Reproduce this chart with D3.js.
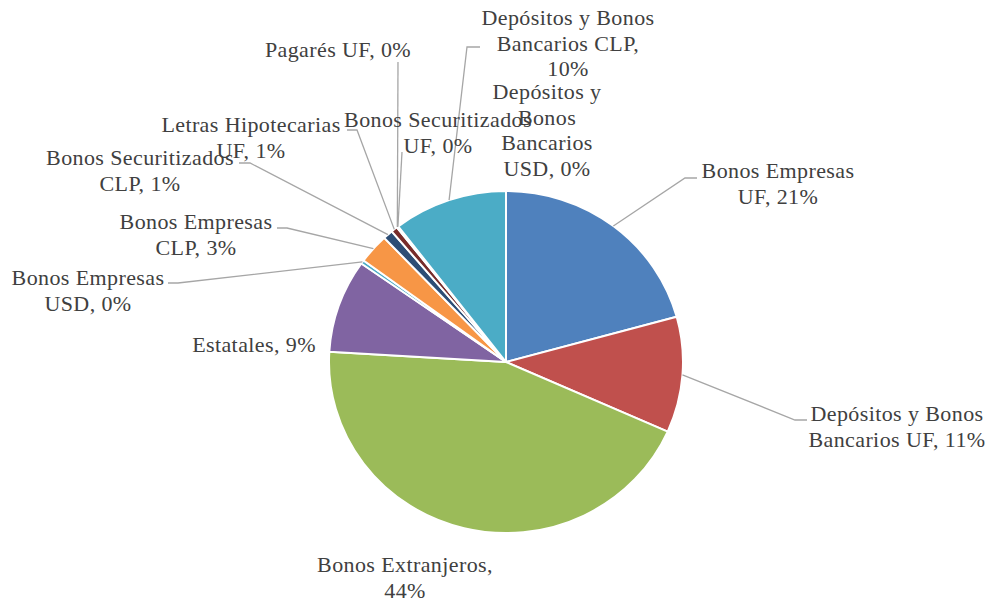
<!DOCTYPE html>
<html>
<head>
<meta charset="utf-8">
<script src="https://cdn.jsdelivr.net/npm/d3@7"></script>
<style>
  html, body { margin: 0; padding: 0; background: #fff; }
  svg { display: block; }
  text.lbl { font-size: 22px; fill: #404040; letter-spacing: 0.4px; }
</style>
</head>
<body>
<svg id="chart" width="989" height="601"></svg>
<script>
// ---- data ----
const categories = [
  "Bonos Empresas UF",
  "Depósitos y Bonos Bancarios UF",
  "Bonos Extranjeros",
  "Estatales",
  "Bonos Empresas USD",
  "Bonos Empresas CLP",
  "Bonos Securitizados CLP",
  "Letras Hipotecarias UF",
  "Pagarés UF",
  "Bonos Securitizados UF",
  "Depósitos y Bonos Bancarios USD",
  "Depósitos y Bonos Bancarios CLP"
];
const values = [20.7, 10.9, 44.2, 8.8, 0.35, 2.8, 0.9, 0.6, 0.1, 0.03, 0.02, 10.4];
const colors = ["#4F81BD", "#C0504D", "#9BBB59", "#8064A2", "#4BACC6", "#F79646",
                "#2C4D75", "#772C2A", "#5F7530", "#4D3B62", "#276A7C", "#4BACC6"];
// label text lines as wrapped in the chart (percentage appended from data)
const labelLines = [
  ["Bonos Empresas", "UF, {p}"],
  ["Depósitos y Bonos", "Bancarios UF, {p}"],
  ["Bonos Extranjeros,", "{p}"],
  ["Estatales, {p}"],
  ["Bonos Empresas", "USD, {p}"],
  ["Bonos Empresas", "CLP, {p}"],
  ["Bonos Securitizados", "CLP, {p}"],
  ["Letras Hipotecarias", "UF, {p}"],
  ["Pagarés UF, {p}"],
  ["Bonos Securitizados", "UF, {p}"],
  ["Depósitos y", "Bonos", "Bancarios", "USD, {p}"],
  ["Depósitos y Bonos", "Bancarios CLP,", "{p}"]
];

// ---- layout (label placement, leader elbows) ----
const labelPos = [
  {cx: 778, y: 178}, {cx: 897, y: 421}, {cx: 405, y: 572}, {cx: 254, y: 352},
  {cx: 88, y: 285},  {cx: 196, y: 229}, {cx: 140, y: 165}, {cx: 251, y: 132},
  {cx: 338, y: 57},  {cx: 438, y: 127}, {cx: 547, y: 99},  {cx: 568, y: 25}
];
const leaders = [
  [[685, 178], [697, 178]],
  [[795, 420], [807, 420]],
  null,
  null,
  [[178, 283], [168, 283]],
  [[287, 228], [277, 228]],
  [[250, 163], [239, 163]],
  [[357, 130], [347, 130]],
  [[398, 62]],
  [[402, 152]],
  null,
  [[467, 47], [480, 47]]
];
const lineH = 25.5;

const cx = 506, cy = 362, R = 177, ry = 171 / 177;

const svg = d3.select("#chart");
const total = d3.sum(values);
const data = categories.map((c, i) => ({name: c, value: values[i], i}));
const pie = d3.pie().sort(null).value(d => d.value).startAngle(0).endAngle(2 * Math.PI);
const arcs = pie(data);
const arc = d3.arc().innerRadius(0).outerRadius(R);

const g = svg.append("g").attr("transform", `translate(${cx},${cy}) scale(1,${ry})`);
g.selectAll("path").data(arcs).enter().append("path")
  .attr("d", arc)
  .attr("fill", d => colors[d.data.i])
  .attr("stroke", "#fff")
  .attr("stroke-width", 2)
  .attr("stroke-linejoin", "round");

// leader lines
arcs.forEach(a => {
  const L = leaders[a.data.i];
  if (!L) return;
  const mid = (a.startAngle + a.endAngle) / 2;
  const start = [cx + R * Math.sin(mid), cy - R * ry * Math.cos(mid)];
  const pts = [start].concat(L);
  svg.append("path")
    .attr("d", d3.line()(pts))
    .attr("fill", "none")
    .attr("stroke", "#A6A6A6")
    .attr("stroke-width", 1.3);
});

// labels
const fmt = v => Math.round(v / total * 100) + "%";
arcs.forEach(a => {
  const i = a.data.i;
  const p = labelPos[i];
  const t = svg.append("text").attr("class", "lbl").attr("text-anchor", "middle")
    .attr("font-family", "'Liberation Serif', 'Noto Serif', 'DejaVu Serif', 'Times New Roman', Times, serif");
  labelLines[i].forEach((ln, k) => {
    t.append("tspan").attr("x", p.cx).attr("y", p.y + k * lineH)
      .text(ln.replace("{p}", fmt(a.data.value)));
  });
});
</script>
</body>
</html>
